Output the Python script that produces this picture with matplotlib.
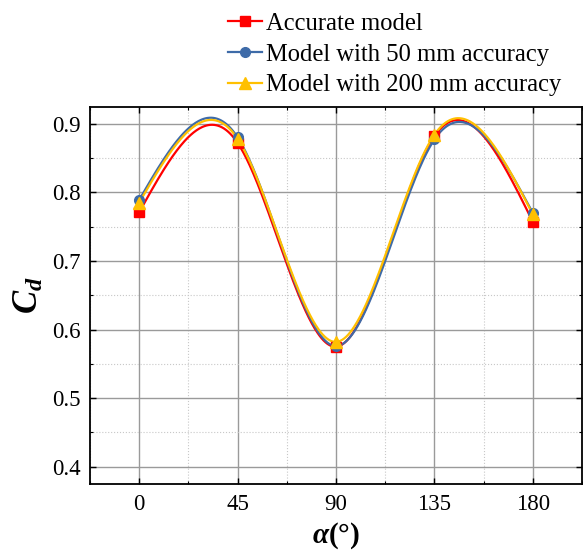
import numpy as np
import matplotlib
matplotlib.use("Agg")
import matplotlib.pyplot as plt
from matplotlib.ticker import MultipleLocator

plt.rcParams['font.family'] = ['Liberation Serif', 'DejaVu Serif']
plt.rcParams['mathtext.fontset'] = 'custom'
plt.rcParams['mathtext.rm'] = 'Liberation Serif:bold'
plt.rcParams['mathtext.it'] = 'Liberation Serif:bold:italic'
plt.rcParams['mathtext.bf'] = 'Liberation Serif:bold'

# Data
angles = [0, 45, 90, 135, 180]
accurate = [0.771, 0.872, 0.575, 0.882, 0.757]
acc50 = [0.789, 0.880, 0.576, 0.877, 0.770]
acc200 = [0.785, 0.878, 0.582, 0.884, 0.768]
series_names = ["Accurate model", "Model with 50 mm accuracy", "Model with 200 mm accuracy"]
xticks = [0, 45, 90, 135, 180]
yticks = [0.4, 0.5, 0.6, 0.7, 0.8, 0.9]


def natural_spline(x, y, xs):
    x = np.asarray(x, float)
    y = np.asarray(y, float)
    n = len(x)
    h = np.diff(x)
    A = np.zeros((n, n))
    b = np.zeros(n)
    A[0, 0] = 1
    A[-1, -1] = 1
    for i in range(1, n - 1):
        A[i, i - 1] = h[i - 1]
        A[i, i] = 2 * (h[i - 1] + h[i])
        A[i, i + 1] = h[i]
        b[i] = 6 * ((y[i + 1] - y[i]) / h[i] - (y[i] - y[i - 1]) / h[i - 1])
    M = np.linalg.solve(A, b)
    idx = np.clip(np.searchsorted(x, xs) - 1, 0, n - 2)
    x0, x1 = x[idx], x[idx + 1]
    hh = x1 - x0
    t0 = x1 - xs
    t1 = xs - x0
    return (M[idx] * t0 ** 3 / (6 * hh) + M[idx + 1] * t1 ** 3 / (6 * hh)
            + (y[idx] / hh - M[idx] * hh / 6) * t0
            + (y[idx + 1] / hh - M[idx + 1] * hh / 6) * t1)


fig = plt.figure(figsize=(5.83, 5.55), dpi=100)
ax = fig.add_axes([0.1544, 0.128, 0.8439, 0.680])

colors = ["#FF0000", "#3E6BA8", "#FFC000"]
markers = ["s", "o", "^"]
msizes = [7, 7, 8]
xs = np.linspace(0, 180, 400)
handles = []
for vals, c, m, ms, name in zip([accurate, acc50, acc200], colors, markers, msizes, series_names):
    ax.plot(xs, natural_spline(angles, vals, xs), color=c, lw=1.6, zorder=3)
    ax.plot(angles, vals, linestyle='none', marker=m, ms=ms, color=c, zorder=4)
    h, = ax.plot([], [], color=c, lw=1.6, marker=m, ms=ms, label=name)
    handles.append(h)

ax.set_xlim(-22.5, 202.5)
ax.set_ylim(0.375, 0.925)
ax.set_xticks(xticks)
ax.set_yticks(yticks)
ax.xaxis.set_minor_locator(MultipleLocator(22.5))
ax.yaxis.set_minor_locator(MultipleLocator(0.05))
ax.grid(True, which='major', color='#9a9a9a', lw=1.0, ls='-')
ax.grid(True, which='minor', color='#c8c8c8', lw=0.8, ls=':')
ax.set_axisbelow(True)
ax.tick_params(which='both', direction='in', top=True, right=True, labelsize=16.5, pad=7)
ax.tick_params(which='major', length=4, width=1)
ax.tick_params(which='minor', length=2, width=0.8)
for s in ax.spines.values():
    s.set_linewidth(1.3)
    s.set_color('black')

ax.set_ylabel(r'$C_d$', fontsize=25, labelpad=4)
ax.set_xlabel(r'$\alpha$(°)', fontsize=21, fontweight='bold', labelpad=4)

fig.legend(handles=handles, loc='upper left', bbox_to_anchor=(0.374, 0.995), frameon=False,
           fontsize=17.7, handlelength=1.4, handletextpad=0.15, labelspacing=0.35, borderaxespad=0)

fig.savefig("out.png", dpi=100)
